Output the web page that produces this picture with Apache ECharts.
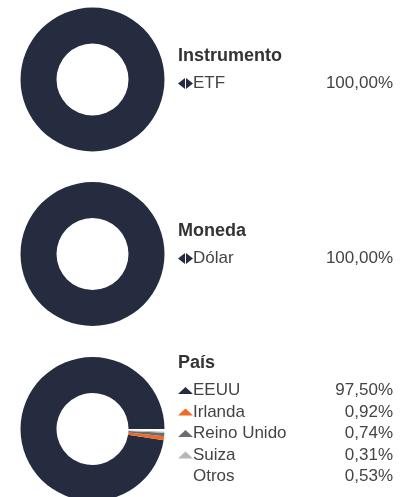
<!DOCTYPE html>
<html>
<head>
<meta charset="utf-8">
<script src="https://cdn.jsdelivr.net/npm/echarts@6/dist/echarts.min.js"></script>
<style>
  html, body { margin: 0; padding: 0; background: #fff; }
  #chart { width: 407px; height: 497px; }
</style>
</head>
<body>
<div id="chart"></div>
<script>
// datos de la composición
const groupTitles = ['Instrumento', 'Moneda', 'País']

const instrumentoNames = ['ETF']
const instrumentoValues = [100.00]

const monedaNames = ['Dólar']
const monedaValues = [100.00]

const paisNames = ['EEUU', 'Irlanda', 'Reino Unido', 'Suiza', 'Otros']
const paisValues = [97.50, 0.92, 0.74, 0.31, 0.53]

const navy = '#262c40'
const paisColors = [navy, '#f26a21', '#6b6b6b', '#b7b7b7', '#ffffff']

const fmt = v => v.toFixed(2).replace('.', ',') + '%'

const lookup = {}
;[[instrumentoNames, instrumentoValues], [monedaNames, monedaValues], [paisNames, paisValues]].forEach(([n, v]) => {
  n.forEach((name, i) => { lookup[name] = v[i] })
})

const font = "'Liberation Sans', Arial, sans-serif"
const centersY = [79.5, 254, 429]
const titleTops = [47, 222, 354]
const legendTops = [75, 250, 382]

const diamondIcon = 'path://M0,5.5L7,0L7,11Z M8,0L15,5.5L8,11Z'
const triangleIcon = 'path://M0,7L7.5,0L15,7Z'

const makeLegend = (names, top, icon, h) => ({
  data: names,
  orient: 'vertical',
  left: 178,
  top: top,
  padding: 0,
  itemGap: 4.5,
  itemWidth: 15,
  itemHeight: h,
  icon: icon,
  selectedMode: false,
  formatter: name => `{n|${name}}{v|${fmt(lookup[name])}}`,
  textStyle: {
    fontFamily: font,
    padding: [0, 0, 0, -5],
    rich: {
      n: { width: 129, fontSize: 17, color: '#444', fontFamily: font },
      v: { width: 71, align: 'right', fontSize: 17, color: '#444', fontFamily: font }
    }
  }
})

const makePie = (names, values, cy, colors) => ({
  type: 'pie',
  center: [92.5, cy],
  radius: [36, 72],
  startAngle: 0,
  clockwise: false,
  silent: true,
  label: { show: false },
  labelLine: { show: false },
  itemStyle: { borderWidth: 0 },
  data: names.map((name, i) => ({
    name: name,
    value: values[i],
    itemStyle: { color: colors[i] }
  }))
})

const chart = echarts.init(document.getElementById('chart'), null, { renderer: 'canvas' })

chart.setOption({
  animation: false,
  backgroundColor: '#fff',
  title: groupTitles.map((t, i) => ({
    text: t,
    left: 178,
    top: titleTops[i],
    padding: 0,
    textStyle: { fontFamily: font, fontSize: 18, fontWeight: 'bold', color: '#333' }
  })),
  legend: [
    makeLegend(instrumentoNames, legendTops[0], diamondIcon, 11),
    makeLegend(monedaNames, legendTops[1], diamondIcon, 11),
    makeLegend(paisNames, legendTops[2], triangleIcon, 7)
  ],
  series: [
    makePie(instrumentoNames, instrumentoValues, centersY[0], [navy]),
    makePie(monedaNames, monedaValues, centersY[1], [navy]),
    makePie(paisNames, paisValues, centersY[2], paisColors)
  ]
})
</script>
</body>
</html>
